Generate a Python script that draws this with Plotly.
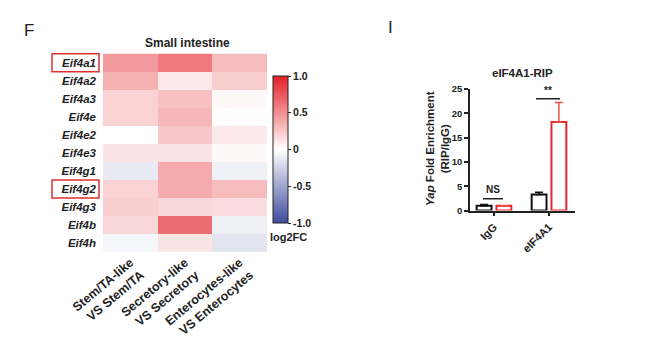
import plotly.graph_objects as go

W, H = 665, 350

# ---------------- Heatmap data ----------------
genes = ["Eif4a1", "Eif4a2", "Eif4a3", "Eif4e", "Eif4e2", "Eif4e3",
         "Eif4g1", "Eif4g2", "Eif4g3", "Eif4b", "Eif4h"]
comparisons = ["Stem/TA-like<br>VS Stem/TA",
               "Secretory-like<br>VS Secretory",
               "Enterocytes-like<br>VS Enterocytes"]
stem_vs = [0.45, 0.35, 0.20, 0.20, 0.00, 0.12, -0.12, 0.20, 0.22, 0.18, -0.05]
secr_vs = [0.60, 0.10, 0.28, 0.32, 0.25, 0.12, 0.38, 0.38, 0.18, 0.65, 0.12]
ente_vs = [0.30, 0.22, 0.03, 0.01, 0.10, 0.03, -0.08, 0.30, 0.15, -0.08, -0.15]
boxed_genes = ["Eif4a1", "Eif4g2"]

# ---------------- Bar data ----------------
groups = ["IgG", "eIF4A1"]
black_vals = [1.0, 3.3]
black_err = [0.25, 0.45]
red_vals = [1.0, 18.2]
red_err = [0.0, 4.0]

FONT = "Liberation Sans, Arial, sans-serif"
RED = "#e8262c"

def px_x(p):
    return p / W

def px_y(p):
    return 1 - p / H

z = [[stem_vs[i], secr_vs[i], ente_vs[i]] for i in range(len(genes))]

fig = go.Figure()

fig.add_trace(go.Heatmap(
    z=z, x=comparisons, y=genes,
    zmin=-1, zmax=1,
    colorscale=[[0, "#3f4b9e"], [0.5, "#ffffff"], [1, "#e41f27"]],
    xaxis="x", yaxis="y",
    colorbar=dict(
        x=px_x(273), xanchor="left",
        y=px_y(149.5), yanchor="middle",
        len=147 / H, lenmode="fraction",
        thickness=15, thicknessmode="pixels",
        outlinecolor="#222", outlinewidth=1,
        xpad=0, ypad=0,
        tickvals=[1, 0.5, 0, -0.5, -1],
        ticktext=["1.0", "0.5", "0", "-0.5", "-1.0"],
        ticks="outside", ticklen=3, tickcolor="#222",
        tickfont=dict(family=FONT, size=10.5, color="#222", weight="bold"),
    ),
    hoverongaps=False,
))

fig.add_trace(go.Bar(
    x=groups, y=black_vals, name="black",
    marker=dict(color="white", line=dict(color="#111", width=2)),
    error_y=dict(type="data", symmetric=False, array=black_err,
                 arrayminus=[0] * len(groups), color="#111",
                 thickness=1.5, width=4),
    xaxis="x2", yaxis="y2",
))
fig.add_trace(go.Bar(
    x=groups, y=red_vals, name="red",
    marker=dict(color="white", line=dict(color=RED, width=2)),
    error_y=dict(type="data", symmetric=False, array=red_err,
                 arrayminus=[0] * len(groups), color="#e8504a",
                 thickness=1.5, width=4),
    xaxis="x2", yaxis="y2",
))

fig.update_layout(
    width=W, height=H,
    margin=dict(l=0, r=0, t=0, b=0, pad=0, autoexpand=False),
    paper_bgcolor="white", plot_bgcolor="white",
    showlegend=False,
    barmode="group", bargap=0.28, bargroupgap=0.25,
    font=dict(family=FONT, color="#222"),
    xaxis=dict(
        domain=[px_x(103), px_x(267)], anchor="y", automargin=False,
        showgrid=False, zeroline=False, showline=False,
        tickangle=-40, ticks="",
        tickfont=dict(family=FONT, size=12.5, color="#222", weight="bold"),
    ),
    yaxis=dict(
        domain=[px_y(252), px_y(53)], anchor="x", automargin=False,
        autorange="reversed",
        showgrid=False, zeroline=False, showline=False, ticks="",
        ticklabelstandoff=6,
        tickfont=dict(family=FONT, size=11.5, color="#222",
                      weight="bold", style="italic"),
    ),
    xaxis2=dict(
        domain=[px_x(470), px_x(575)], anchor="y2", automargin=False,
        range=[-0.436, 1.473],
        showgrid=False, zeroline=False,
        showline=True, linecolor="#222", linewidth=1.5,
        ticks="outside", ticklen=4, tickcolor="#222", tickwidth=1.5,
        tickangle=-45,
        tickfont=dict(family=FONT, size=11, color="#222", weight="bold"),
    ),
    yaxis2=dict(
        domain=[px_y(210.5), px_y(89)], anchor="x2", automargin=False,
        range=[0, 25], dtick=5,
        showgrid=False, zeroline=False,
        showline=True, linecolor="#222", linewidth=1.5,
        ticks="outside", ticklen=4, tickcolor="#222", tickwidth=1.5,
        tickfont=dict(family=FONT, size=9.5, color="#222", weight="bold"),
    ),
)

def ann(text, x, y, size, **kw):
    d = dict(text=text, x=x, y=y, xref="paper", yref="paper",
             xanchor="center", yanchor="middle", showarrow=False,
             font=dict(family=FONT, size=size, color="#222"))
    d.update(kw)
    return d

annotations = [
    ann("F", px_x(29), px_y(31), 17),
    ann("I", px_x(390), px_y(28), 17),
    ann("<b>Small intestine</b>", px_x(187), px_y(43), 12),
    ann("<b>log2FC</b>", px_x(288), px_y(237), 11),
    ann("<b>eIF4A1-RIP</b>", px_x(522), px_y(73), 11.5),
    ann("<b><i>Yap</i> Fold Enrichment<br>(RIP/IgG)</b>",
        px_x(437), px_y(149), 11.5, textangle=-90),
    dict(text="<b>NS</b>", x=-0.02, y=2.7, xref="x2", yref="y2",
         xanchor="center", yanchor="bottom", showarrow=False,
         font=dict(family=FONT, size=10, color="#222")),
    dict(text="<b>**</b>", x=0.98, y=23.2, xref="x2", yref="y2",
         xanchor="center", yanchor="bottom", showarrow=False,
         font=dict(family=FONT, size=10, color="#222")),
]
fig.update_layout(annotations=annotations)

shapes = [
    dict(type="line", xref="x2", yref="y2", x0=-0.2, x1=0.164, y0=2.4, y1=2.4,
         line=dict(color="#222", width=1.5)),
    dict(type="line", xref="x2", yref="y2", x0=0.764, x1=1.2, y0=23, y1=23,
         line=dict(color="#222", width=1.5)),
]
for g in boxed_genes:
    i = genes.index(g)
    shapes.append(dict(type="rect", xref="paper", yref="y",
                       x0=px_x(52), x1=px_x(99), y0=i - 0.5, y1=i + 0.5,
                       line=dict(color="#e03030", width=1.5)))
fig.update_layout(shapes=shapes)

fig.write_html("out.html")
